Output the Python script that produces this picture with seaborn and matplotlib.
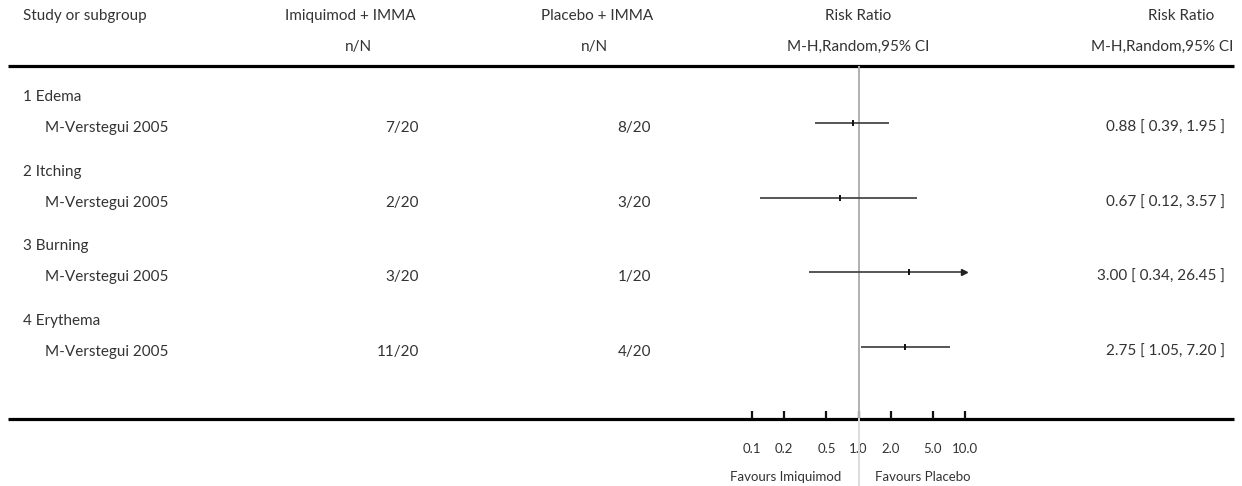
import numpy as np
import pandas as pd
import matplotlib
matplotlib.use("Agg")
import matplotlib.pyplot as plt
import seaborn as sns

# ---------------- data ----------------
groups = ["1 Edema", "2 Itching", "3 Burning", "4 Erythema"]
studies = ["M-Verstegui 2005", "M-Verstegui 2005", "M-Verstegui 2005", "M-Verstegui 2005"]
imi_events = [7, 2, 3, 11]
imi_total = [20, 20, 20, 20]
pla_events = [8, 3, 1, 4]
pla_total = [20, 20, 20, 20]
rr = [0.88, 0.67, 3.00, 2.75]
ci_low = [0.39, 0.12, 0.34, 1.05]
ci_high = [1.95, 3.57, 26.45, 7.20]
tick_values = [0.1, 0.2, 0.5, 1.0, 2.0, 5.0, 10.0]
tick_labels = ["0.1", "0.2", "0.5", "1.0", "2.0", "5.0", "10.0"]
col_headers = ["Study or subgroup", "Imiquimod + IMMA", "Placebo + IMMA", "Risk Ratio", "Risk Ratio"]
col_subheaders = ["", "n/N", "n/N", "M-H,Random,95% CI", "M-H,Random,95% CI"]
favours = ["Favours Imiquimod", "Favours Placebo"]

df = pd.DataFrame({"row": np.arange(len(rr)), "rr": rr, "lo": ci_low, "hi": ci_high})

# ---------------- style ----------------
sns.set_theme(style="white")
plt.rcParams["font.family"] = ["Lato", "DejaVu Sans"]
TXT = "#333333"
FS = 11
FS_SMALL = 9.5

W, H = 1242, 486
fig = plt.figure(figsize=(W / 100, H / 100), dpi=100)

# background axes in pixel coordinates for the table layout
bg = fig.add_axes([0, 0, 1, 1])
bg.set_xlim(0, W)
bg.set_ylim(H, 0)
bg.axis("off")

# layout (pixels)
top_line_y = 66
axis_y = 419
row_step = 74.67
first_line_y = 123
x_lo_px, x_hi_px = 752, 965

# forest axes
ax = fig.add_axes([x_lo_px / W, (H - axis_y) / H, (x_hi_px - x_lo_px) / W, (axis_y - top_line_y) / H])
ax.set_xscale("log")
ax.set_xlim(0.1, 10)
y_top = (top_line_y - first_line_y) / row_step
y_bot = (axis_y - first_line_y) / row_step
ax.set_ylim(y_bot, y_top)
for s in ax.spines.values():
    s.set_visible(False)
ax.set_yticks([])
ax.patch.set_alpha(0)

# null line
ax.axvline(1.0, color="#b0b0b0", lw=1.4, zorder=1)
ax.plot([1.0, 1.0], [y_bot, y_bot + (H - axis_y) / row_step], color="#dcdcdc", lw=1.4,
        clip_on=False, zorder=1)

# CI lines (clipped to axis range, arrow when beyond)
lo_c = np.clip(df["lo"], 0.1, 10)
hi_c = np.clip(df["hi"], 0.1, 10)
ax.hlines(df["row"], lo_c, hi_c, color="#3a3a3a", lw=1.2, zorder=2)
over = df["hi"] > 10
if over.any():
    ax.plot(np.full(over.sum(), 9.75), df.loc[over, "row"], marker=">", ms=4,
            color="#222222", ls="none", clip_on=False, zorder=3)
under = df["lo"] < 0.1
if under.any():
    ax.plot(np.full(under.sum(), 0.1025), df.loc[under, "row"], marker="<", ms=4,
            color="#222222", ls="none", clip_on=False, zorder=3)

# point estimates
sns.scatterplot(data=df, x="rr", y="row", marker="|", s=14, linewidth=1.4,
                color="#111111", ax=ax, zorder=4, legend=False)
ax.set_xlabel("")
ax.set_ylabel("")

ax.set_xticks(tick_values)
ax.set_xticklabels(tick_labels)
ax.minorticks_off()
ax.tick_params(axis="x", direction="in", length=5.5, width=1.6, color="#111111",
               pad=17, labelsize=FS_SMALL, labelcolor=TXT, bottom=True)

# horizontal rules
bg.plot([8, 1234], [top_line_y, top_line_y], color="black", lw=2.3, solid_capstyle="butt")
bg.plot([8, 1234], [axis_y, axis_y], color="black", lw=2.3, solid_capstyle="butt")

# headers
hy1, hy2 = 16, 47
bg.text(23, hy1, col_headers[0], ha="left", va="center", fontsize=FS, color=TXT)
bg.text(416, hy1, col_headers[1], ha="right", va="center", fontsize=FS, color=TXT)
bg.text(372, hy2, col_subheaders[1], ha="right", va="center", fontsize=FS, color=TXT)
bg.text(653, hy1, col_headers[2], ha="right", va="center", fontsize=FS, color=TXT)
bg.text(608, hy2, col_subheaders[2], ha="right", va="center", fontsize=FS, color=TXT)
bg.text(858, hy1, col_headers[3], ha="center", va="center", fontsize=FS, color=TXT)
bg.text(858, hy2, col_subheaders[3], ha="center", va="center", fontsize=FS, color=TXT)
bg.text(1181, hy1, col_headers[4], ha="center", va="center", fontsize=FS, color=TXT)
bg.text(1233, hy2, col_subheaders[4], ha="right", va="center", fontsize=FS, color=TXT)

# rows
for i in range(len(groups)):
    gy = 97 + i * row_step
    sy = first_line_y + 5 + i * row_step
    bg.text(23, gy, groups[i], ha="left", va="center", fontsize=FS, color=TXT)
    bg.text(45, sy, studies[i], ha="left", va="center", fontsize=FS, color=TXT)
    bg.text(419, sy, f"{imi_events[i]}/{imi_total[i]}", ha="right", va="center", fontsize=FS, color=TXT)
    bg.text(651, sy, f"{pla_events[i]}/{pla_total[i]}", ha="right", va="center", fontsize=FS, color=TXT)
    bg.text(1225, sy, f"{rr[i]:.2f} [ {ci_low[i]:.2f}, {ci_high[i]:.2f} ]", ha="right",
            va="center", fontsize=FS, color=TXT)

# favours labels
bg.text(841, 477, favours[0], ha="right", va="center", fontsize=FS_SMALL, color=TXT)
bg.text(875, 477, favours[1], ha="left", va="center", fontsize=FS_SMALL, color=TXT)

fig.savefig("out.png", dpi=100)
